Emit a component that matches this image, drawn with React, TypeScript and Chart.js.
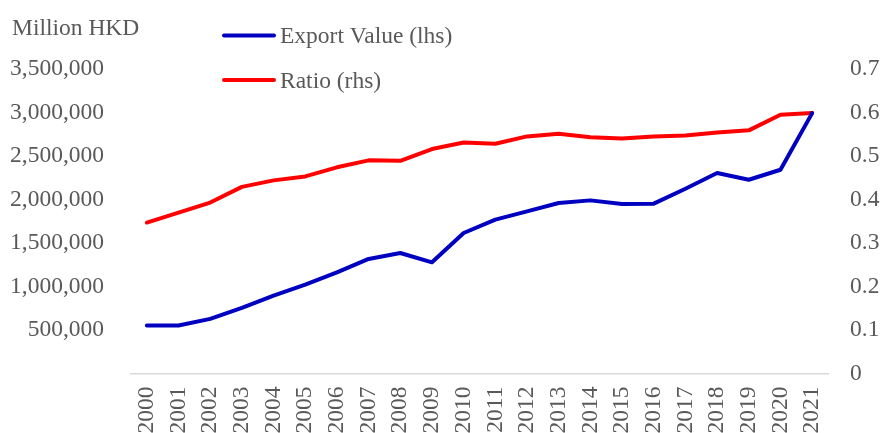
import React, { useEffect, useRef } from "react";
import { Chart, registerables } from "chart.js";

Chart.register(...registerables);

const years = [
  "2000", "2001", "2002", "2003", "2004", "2005", "2006", "2007", "2008", "2009", "2010",
  "2011", "2012", "2013", "2014", "2015", "2016", "2017", "2018", "2019", "2020", "2021",
];

const exportValue = [
  551000, 551000, 628000, 754000, 895000, 1022000, 1163000, 1317000, 1385000, 1278000, 1615000,
  1768000, 1864000, 1960000, 1990000, 1948000, 1952000, 2124000, 2304000, 2227000, 2342000, 2993000,
];

const ratio = [
  0.347, 0.37, 0.393, 0.429, 0.444, 0.453, 0.474, 0.49, 0.489, 0.516, 0.531,
  0.528, 0.545, 0.551, 0.543, 0.54, 0.545, 0.547, 0.554, 0.559, 0.595, 0.599,
];

const seriesLabels = ["Export Value (lhs)", "Ratio (rhs)"];
const seriesColors = ["#0000C0", "#FF0000"];
const leftAxisTitle = "Million HKD";

const FONT_FAMILY = "'Liberation Serif', 'Times New Roman', serif";
const FONT_SIZE = 23.5;
const TEXT_COLOR = "#595959";

const overlayPlugin = {
  id: "overlayText",
  afterDraw(chart: any) {
    const ctx = chart.ctx as CanvasRenderingContext2D;
    ctx.save();
    ctx.font = `${FONT_SIZE}px ${FONT_FAMILY}`;
    ctx.fillStyle = TEXT_COLOR;
    ctx.textBaseline = "alphabetic";
    ctx.textAlign = "left";
    ctx.fillText(leftAxisTitle, 12, 35);
    chart.data.datasets.forEach((ds: any, i: number) => {
      const y = 35.5 + i * 44.5;
      ctx.beginPath();
      ctx.strokeStyle = ds.borderColor;
      ctx.lineWidth = 4;
      ctx.lineCap = "round";
      ctx.moveTo(224, y);
      ctx.lineTo(274, y);
      ctx.stroke();
      ctx.fillStyle = TEXT_COLOR;
      ctx.textBaseline = "middle";
      ctx.fillText(ds.label, 280, y + 1.5);
    });
    ctx.restore();
  },
};

export default function App() {
  const canvasRef = useRef<HTMLCanvasElement | null>(null);

  useEffect(() => {
    if (!canvasRef.current) return;
    const font = { family: FONT_FAMILY, size: FONT_SIZE };
    const chart = new Chart(canvasRef.current, {
      type: "line",
      data: {
        labels: years,
        datasets: [
          {
            label: seriesLabels[0],
            data: exportValue,
            borderColor: seriesColors[0],
            backgroundColor: seriesColors[0],
            borderWidth: 4,
            pointRadius: 0,
            tension: 0,
            borderCapStyle: "round",
            borderJoinStyle: "round",
            yAxisID: "y",
          },
          {
            label: seriesLabels[1],
            data: ratio,
            borderColor: seriesColors[1],
            backgroundColor: seriesColors[1],
            borderWidth: 4,
            pointRadius: 0,
            tension: 0,
            borderCapStyle: "round",
            borderJoinStyle: "round",
            yAxisID: "y1",
          },
        ],
      },
      options: {
        responsive: false,
        animation: false,
        layout: { padding: { top: 69, left: 0, right: 0, bottom: 0 } },
        plugins: {
          legend: { display: false },
          tooltip: { enabled: false },
          title: { display: false },
        },
        scales: {
          x: {
            offset: true,
            grid: { display: false, drawTicks: false },
            border: { display: true, color: "#D9D9D9", width: 1.5 },
            ticks: {
              font,
              color: TEXT_COLOR,
              minRotation: 90,
              maxRotation: 90,
              autoSkip: false,
              padding: 13,
            },
            afterFit(scale: any) {
              scale.height = 59.5;
            },
          },
          y: {
            position: "left",
            min: 0,
            max: 3500000,
            grid: { display: false, drawTicks: false },
            border: { display: false },
            ticks: {
              stepSize: 500000,
              font,
              color: TEXT_COLOR,
              padding: 27,
              callback: (v: any) => (Number(v) === 0 ? "" : Number(v).toLocaleString("en-US")),
            },
            afterFit(scale: any) {
              scale.width = 131;
            },
          },
          y1: {
            position: "right",
            min: 0,
            max: 0.7,
            grid: { display: false, drawTicks: false },
            border: { display: false },
            ticks: {
              stepSize: 0.1,
              font,
              color: TEXT_COLOR,
              padding: 22,
              callback: (v: any) => String(Math.round(Number(v) * 10) / 10),
            },
            afterFit(scale: any) {
              scale.width = 53;
            },
          },
        },
      },
      plugins: [overlayPlugin],
    } as any);
    return () => chart.destroy();
  }, []);

  return (
    <div style={{ position: "absolute", left: 0, top: 0, width: 881, height: 433, background: "#fff" }}>
      <canvas ref={canvasRef} width={881} height={433} />
    </div>
  );
}
